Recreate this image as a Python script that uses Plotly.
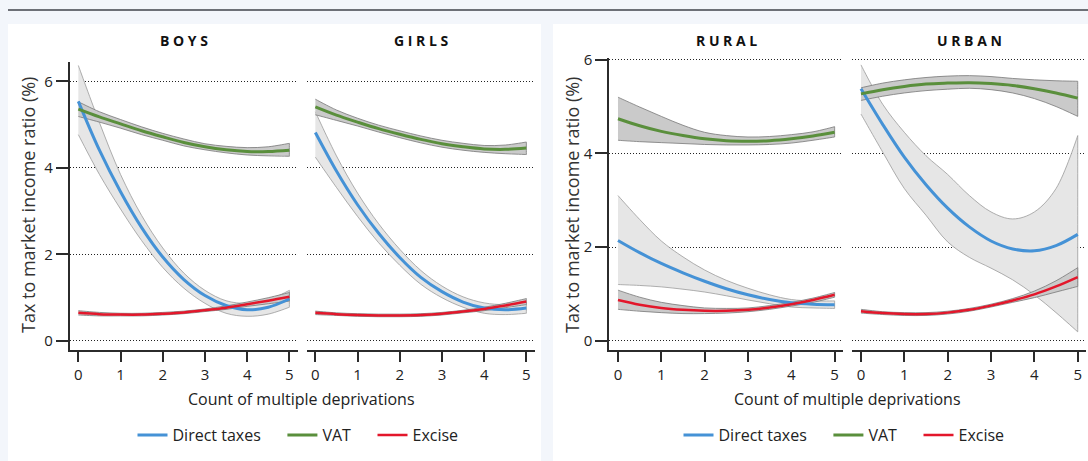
import plotly.graph_objects as go

# ---------------- data ----------------
X_POINTS = [0, 0.5, 1, 1.5, 2, 2.5, 3, 3.5, 4, 4.5, 5]
SERIES = ["Direct taxes", "VAT", "Excise"]
FACETS = ["BOYS", "GIRLS", "RURAL", "URBAN"]

# BOYS
boys_direct = [5.54, 4.41, 3.45, 2.62, 1.94, 1.42, 1.05, 0.82, 0.72, 0.78, 0.97]
boys_direct_hi = [6.37, 5.05, 3.85, 2.90, 2.15, 1.57, 1.17, 0.93, 0.87, 0.95, 1.17]
boys_direct_lo = [4.77, 3.85, 3.05, 2.32, 1.70, 1.22, 0.87, 0.64, 0.57, 0.62, 0.78]
boys_vat = [5.36, 5.18, 5.02, 4.86, 4.72, 4.59, 4.49, 4.42, 4.38, 4.38, 4.41]
boys_vat_hi = [5.53, 5.30, 5.12, 4.95, 4.80, 4.67, 4.56, 4.50, 4.47, 4.49, 4.57]
boys_vat_lo = [5.19, 5.06, 4.92, 4.77, 4.64, 4.51, 4.42, 4.35, 4.30, 4.28, 4.27]
boys_excise = [0.65, 0.62, 0.61, 0.61, 0.63, 0.66, 0.71, 0.77, 0.85, 0.93, 1.02]
boys_excise_hi = [0.70, 0.66, 0.64, 0.64, 0.66, 0.69, 0.74, 0.81, 0.90, 1.00, 1.12]
boys_excise_lo = [0.60, 0.58, 0.58, 0.58, 0.60, 0.63, 0.68, 0.73, 0.80, 0.86, 0.92]

# GIRLS
girls_direct = [4.82, 3.93, 3.15, 2.49, 1.93, 1.47, 1.14, 0.90, 0.76, 0.72, 0.76]
girls_direct_hi = [5.30, 4.28, 3.42, 2.71, 2.12, 1.63, 1.27, 1.02, 0.88, 0.84, 0.88]
girls_direct_lo = [4.25, 3.55, 2.88, 2.27, 1.75, 1.31, 1.00, 0.78, 0.64, 0.61, 0.64]
girls_vat = [5.41, 5.22, 5.06, 4.91, 4.78, 4.66, 4.56, 4.49, 4.44, 4.43, 4.46]
girls_vat_hi = [5.59, 5.34, 5.15, 4.99, 4.86, 4.74, 4.64, 4.57, 4.52, 4.53, 4.60]
girls_vat_lo = [5.23, 5.10, 4.97, 4.83, 4.70, 4.58, 4.48, 4.41, 4.36, 4.33, 4.31]
girls_excise = [0.65, 0.62, 0.60, 0.59, 0.59, 0.60, 0.63, 0.68, 0.74, 0.82, 0.91]
girls_excise_hi = [0.69, 0.65, 0.63, 0.62, 0.62, 0.63, 0.66, 0.71, 0.78, 0.87, 0.98]
girls_excise_lo = [0.61, 0.59, 0.57, 0.56, 0.56, 0.57, 0.60, 0.65, 0.70, 0.77, 0.84]

# RURAL
rural_direct = [2.14, 1.88, 1.65, 1.45, 1.27, 1.11, 0.98, 0.88, 0.81, 0.78, 0.77]
rural_direct_hi = [3.10, 2.59, 2.13, 1.79, 1.51, 1.29, 1.12, 0.98, 0.88, 0.85, 0.85]
rural_direct_lo = [1.20, 1.18, 1.15, 1.10, 1.04, 0.96, 0.87, 0.79, 0.72, 0.70, 0.69]
rural_vat = [4.74, 4.59, 4.47, 4.38, 4.31, 4.27, 4.26, 4.27, 4.31, 4.37, 4.45]
rural_vat_hi = [5.20, 4.99, 4.79, 4.60, 4.45, 4.38, 4.35, 4.36, 4.40, 4.46, 4.57]
rural_vat_lo = [4.28, 4.25, 4.23, 4.21, 4.19, 4.18, 4.18, 4.19, 4.22, 4.28, 4.35]
rural_excise = [0.87, 0.77, 0.70, 0.66, 0.64, 0.64, 0.66, 0.71, 0.78, 0.87, 0.98]
rural_excise_hi = [1.08, 0.93, 0.82, 0.75, 0.70, 0.69, 0.70, 0.75, 0.82, 0.91, 1.03]
rural_excise_lo = [0.67, 0.63, 0.60, 0.58, 0.58, 0.59, 0.62, 0.67, 0.74, 0.82, 0.93]

# URBAN
urban_direct = [5.38, 4.62, 3.92, 3.33, 2.83, 2.43, 2.13, 1.96, 1.92, 2.03, 2.27]
urban_direct_hi = [5.89, 5.05, 4.45, 3.95, 3.55, 3.10, 2.75, 2.60, 2.75, 3.25, 4.38]
urban_direct_lo = [4.84, 4.03, 3.25, 2.68, 2.11, 1.78, 1.55, 1.30, 0.98, 0.60, 0.19]
urban_vat = [5.27, 5.36, 5.43, 5.48, 5.50, 5.51, 5.49, 5.45, 5.38, 5.29, 5.18]
urban_vat_hi = [5.40, 5.50, 5.57, 5.62, 5.65, 5.66, 5.64, 5.60, 5.57, 5.55, 5.54]
urban_vat_lo = [5.13, 5.22, 5.29, 5.34, 5.37, 5.39, 5.36, 5.29, 5.17, 5.00, 4.79]
urban_excise = [0.63, 0.59, 0.57, 0.57, 0.60, 0.66, 0.75, 0.86, 0.99, 1.16, 1.36]
urban_excise_hi = [0.67, 0.62, 0.60, 0.60, 0.63, 0.69, 0.78, 0.90, 1.06, 1.28, 1.56]
urban_excise_lo = [0.59, 0.56, 0.54, 0.54, 0.57, 0.63, 0.72, 0.82, 0.92, 1.04, 1.16]

X_TICKS = [0, 1, 2, 3, 4, 5]
Y_TICKS = [0, 2, 4, 6]
X_TITLE = "Count of multiple deprivations"
Y_TITLE = "Tax to market income ratio (%)"

DATA = {
    "BOYS": [(boys_direct, boys_direct_lo, boys_direct_hi),
             (boys_vat, boys_vat_lo, boys_vat_hi),
             (boys_excise, boys_excise_lo, boys_excise_hi)],
    "GIRLS": [(girls_direct, girls_direct_lo, girls_direct_hi),
              (girls_vat, girls_vat_lo, girls_vat_hi),
              (girls_excise, girls_excise_lo, girls_excise_hi)],
    "RURAL": [(rural_direct, rural_direct_lo, rural_direct_hi),
              (rural_vat, rural_vat_lo, rural_vat_hi),
              (rural_excise, rural_excise_lo, rural_excise_hi)],
    "URBAN": [(urban_direct, urban_direct_lo, urban_direct_hi),
              (urban_vat, urban_vat_lo, urban_vat_hi),
              (urban_excise, urban_excise_lo, urban_excise_hi)],
}

# ---------------- styling ----------------
W, H = 1088, 461
FONT = "Open Sans"
LINE_COLORS = ["#4592d6", "#5a8f3c", "#e3172b"]
BAND_FILL = ["#e6e6e6", "#cacaca", "#cacaca"]
BAND_EDGE = ["#9a9a9a", "#777777", "#777777"]
LINE_W = [3, 3, 2.5]
AX = "#2b2b2b"
TXT = "#222222"
NB = "\u00a0"
LEGEND_PAD = [NB * 4, NB * 4, ""]

def fx(px):
    return px / W

def fy(py):
    return (H - py) / H

FACET_X = [(69.9, 297.8), (306.9, 534.8), (609.3, 843.3), (852.3, 1086.4)]
XAX = ["x", "x2", "x3", "x4"]
YAX = ["y", "y", "y2", "y2"]
LEGEND_OF = ["legend", None, "legend2", None]

fig = go.Figure()

for fi, facet in enumerate(FACETS):
    series = DATA[facet]
    for si, (mid, lo, hi) in enumerate(series):
        # closed band outline; corner points repeated so the spline keeps square ends
        bx = [X_POINTS[0]] + X_POINTS + [X_POINTS[-1]] + [X_POINTS[-1]] + X_POINTS[::-1] + [X_POINTS[0]]
        by = [hi[0]] + hi + [hi[-1]] + [lo[-1]] + lo[::-1] + [lo[0]]
        fig.add_trace(go.Scatter(
            x=bx, y=by,
            xaxis=XAX[fi], yaxis=YAX[fi],
            mode="lines", fill="toself", fillcolor=BAND_FILL[si],
            line=dict(color=BAND_EDGE[si], width=0.8, shape="spline", smoothing=1, simplify=False),
            showlegend=False, hoverinfo="skip"))
    for si, (mid, lo, hi) in enumerate(series):
        leg = LEGEND_OF[fi]
        fig.add_trace(go.Scatter(
            x=X_POINTS, y=mid, name=SERIES[si] + LEGEND_PAD[si],
            xaxis=XAX[fi], yaxis=YAX[fi],
            mode="lines",
            line=dict(color=LINE_COLORS[si], width=LINE_W[si], shape="spline"),
            showlegend=leg is not None,
            legend=leg if leg is not None else "legend"))

layout = dict(
    template="none",
    width=W, height=H, autosize=False,
    margin=dict(l=0, r=0, t=0, b=0, pad=0, autoexpand=False),
    paper_bgcolor="#f3f6fb",
    plot_bgcolor="rgba(0,0,0,0)",
    font=dict(family=FONT, color=TXT, size=16),
)

for fi in range(4):
    key = "xaxis" if fi == 0 else f"xaxis{fi + 1}"
    layout[key] = dict(
        domain=[fx(FACET_X[fi][0]), fx(FACET_X[fi][1])],
        range=[-0.2, 5.2], anchor=YAX[fi], automargin=False,
        tickvals=X_TICKS, ticks="outside", ticklen=10, tickwidth=1.5, tickcolor=AX,
        showline=True, linecolor=AX, linewidth=2,
        showgrid=False, zeroline=False,
        tickfont=dict(size=15, color=TXT, family=FONT),
        fixedrange=True)

ycommon = dict(
    tickvals=Y_TICKS, ticks="outside", ticklen=12, tickwidth=1.5, tickcolor=AX,
    showline=True, linecolor=AX, linewidth=2, automargin=False,
    showgrid=True, gridcolor="#222222", griddash="1px,2px", gridwidth=1,
    zeroline=False, tickfont=dict(size=15, color=TXT, family=FONT),
    fixedrange=True)
layout["yaxis"] = dict(ycommon, domain=[fy(349.6), fy(62)], range=[-0.2, 6.45], anchor="x")
layout["yaxis2"] = dict(ycommon, domain=[fy(350.1), fy(58.3)], range=[-0.2, 6.03], anchor="x3")

legend_common = dict(orientation="h", xanchor="center", yanchor="middle",
                     bgcolor="rgba(0,0,0,0)", font=dict(size=16, family=FONT, color=TXT),
                     itemwidth=30, tracegroupgap=0, borderwidth=0)
layout["legend"] = dict(legend_common, x=fx(298), y=fy(435))
layout["legend2"] = dict(legend_common, x=fx(844), y=fy(435))

layout["shapes"] = [
    dict(type="rect", xref="paper", yref="paper", x0=fx(8), x1=fx(541), y0=0, y1=fy(24),
         fillcolor="white", line=dict(width=0), layer="below"),
    dict(type="rect", xref="paper", yref="paper", x0=fx(553), x1=1, y0=0, y1=fy(24),
         fillcolor="white", line=dict(width=0), layer="below"),
    dict(type="line", xref="paper", yref="paper", x0=fx(8), x1=1, y0=fy(10), y1=fy(10),
         line=dict(color="#6d7077", width=2), layer="below"),
]

annotations = []
for fi, facet in enumerate(FACETS):
    cx = (FACET_X[fi][0] + FACET_X[fi][1]) / 2
    annotations.append(dict(
        text="<b>" + " ".join(facet) + "</b>", x=fx(cx), y=fy(40), xref="paper", yref="paper",
        showarrow=False, xanchor="center", yanchor="middle",
        font=dict(size=14, family=FONT, color="#111111")))
for cx in (301, 847):
    annotations.append(dict(
        text=X_TITLE, x=fx(cx), y=fy(399), xref="paper", yref="paper",
        showarrow=False, xanchor="center", yanchor="middle",
        font=dict(size=16, family=FONT, color=TXT)))
for cx in (28, 572):
    annotations.append(dict(
        text=Y_TITLE, x=fx(cx), y=fy(205), xref="paper", yref="paper",
        showarrow=False, xanchor="center", yanchor="middle", textangle=-90,
        font=dict(size=18, family=FONT, color="#333333")))
layout["annotations"] = annotations

fig.update_layout(**layout)

POST = ("document.documentElement.style.margin='0';"
        "document.documentElement.style.height='461px';"
        "document.documentElement.style.overflow='hidden';"
        "document.body.style.margin='0';"
        "document.body.style.padding='0';"
        "document.body.style.height='461px';"
        "document.body.style.overflow='hidden';"
        "var gd=document.getElementById('{plot_id}');"
        "gd.style.position='fixed';gd.style.top='0px';gd.style.left='0px';")
fig.write_html("out.html", post_script=POST, config={"displayModeBar": False})
